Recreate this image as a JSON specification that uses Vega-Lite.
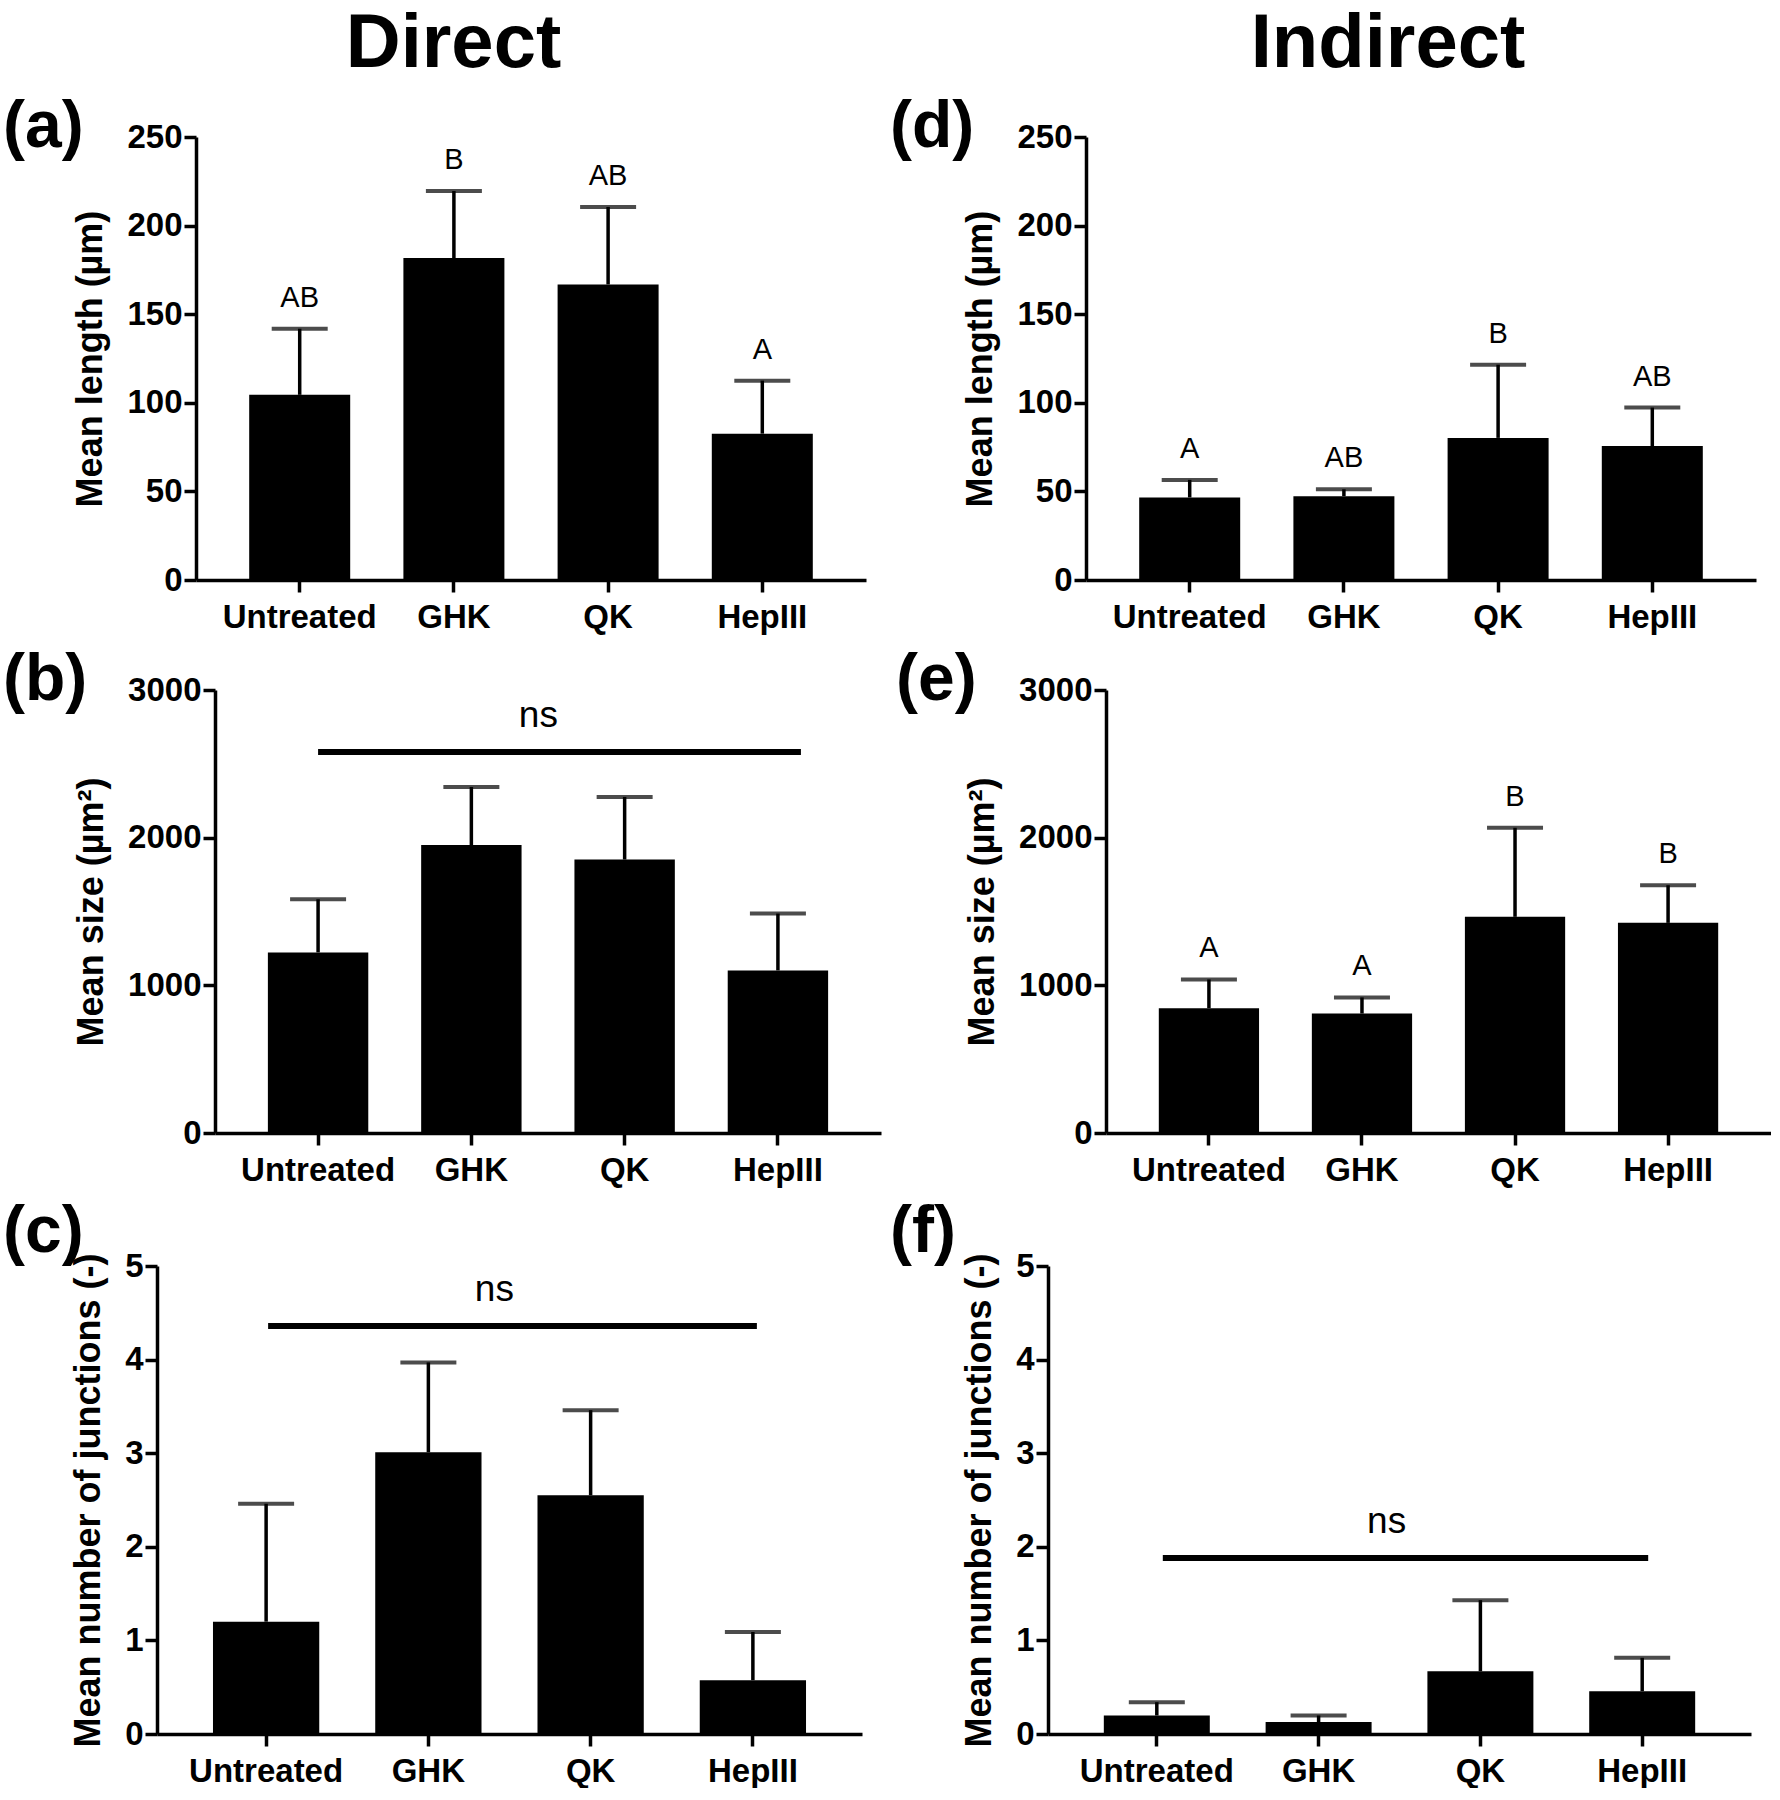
{
  "$schema": "https://vega.github.io/schema/vega-lite/v6.json",
  "background": "white",
  "padding": {"left": 0, "top": 6, "right": 0, "bottom": 0},
  "spacing": 12,
  "datasets": {
    "a": [
      {"group": "Untreated", "mean": 104.5, "err": 141.8, "letter": "AB"},
      {"group": "GHK", "mean": 181.7, "err": 219.5, "letter": "B"},
      {"group": "QK", "mean": 166.8, "err": 210.5, "letter": "AB"},
      {"group": "HepIII", "mean": 82.6, "err": 112.5, "letter": "A"}
    ],
    "b": [
      {"group": "Untreated", "mean": 1223, "err": 1583},
      {"group": "GHK", "mean": 1950, "err": 2343},
      {"group": "QK", "mean": 1852, "err": 2276},
      {"group": "HepIII", "mean": 1101, "err": 1486}
    ],
    "c": [
      {"group": "Untreated", "mean": 1.2, "err": 2.46},
      {"group": "GHK", "mean": 3.01, "err": 3.97},
      {"group": "QK", "mean": 2.55, "err": 3.46},
      {"group": "HepIII", "mean": 0.575, "err": 1.09}
    ],
    "d": [
      {"group": "Untreated", "mean": 46.6, "err": 56.5, "letter": "A"},
      {"group": "GHK", "mean": 47.3, "err": 51.2, "letter": "AB"},
      {"group": "QK", "mean": 80.2, "err": 121.5, "letter": "B"},
      {"group": "HepIII", "mean": 75.6, "err": 97.3, "letter": "AB"}
    ],
    "e": [
      {"group": "Untreated", "mean": 845, "err": 1040, "letter": "A"},
      {"group": "GHK", "mean": 809, "err": 918, "letter": "A"},
      {"group": "QK", "mean": 1464, "err": 2067, "letter": "B"},
      {"group": "HepIII", "mean": 1423, "err": 1678, "letter": "B"}
    ],
    "f": [
      {"group": "Untreated", "mean": 0.198, "err": 0.34},
      {"group": "GHK", "mean": 0.128, "err": 0.198},
      {"group": "QK", "mean": 0.67, "err": 1.43},
      {"group": "HepIII", "mean": 0.457, "err": 0.814}
    ],
    "ns": [{"label": "ns"}],
    "blank": [{}]
  },
  "vconcat": [
    {
      "spacing": 2,
      "hconcat": [
        {"width": 1, "height": 1, "view": {"stroke": null, "fill": "white"}, "data": {"name": "blank"}, "mark": {"type": "point", "opacity": 0, "size": 1}, "encoding": {}},
        {
          "spacing": 24,
          "hconcat": [
            {
              "title": {"text": "Direct", "fontSize": 76, "fontWeight": "bold", "anchor": "middle", "frame": "bounds", "offset": 11, "dx": 19},
              "vconcat": [
                {
                  "width": 670, "height": 443,
                  "title": {"text": "(a)", "anchor": "start", "frame": "group", "fontSize": 66, "fontWeight": "bold", "offset": 0, "dx": -193, "dy": 40},
                  "data": {"name": "a"},
                  "encoding": {"x": {"field": "group", "type": "nominal", "sort": ["Untreated", "GHK", "QK", "HepIII"], "scale": {"paddingInner": 0.345, "paddingOuter": 0.345}, "axis": {"title": null}}},
                  "layer": [
                    {"mark": {"type": "bar", "color": "black"}, "encoding": {"y": {"field": "mean", "type": "quantitative", "scale": {"domain": [0, 250], "nice": false}, "axis": {"title": "Mean length (µm)", "values": [0, 50, 100, 150, 200, 250]}}}},
                    {"mark": {"type": "rule", "color": "black", "strokeWidth": 3.5}, "encoding": {"y": {"field": "mean", "type": "quantitative"}, "y2": {"field": "err"}}},
                    {"mark": {"type": "tick", "color": "black", "size": 56, "thickness": 4}, "encoding": {"y": {"field": "err", "type": "quantitative"}}},
                    {"mark": {"type": "text", "fontSize": 29, "baseline": "alphabetic", "dy": -22, "color": "black"}, "encoding": {"y": {"field": "err", "type": "quantitative"}, "text": {"field": "letter"}}}
                  ]
                }
              ]
            },
            {
              "title": {"text": "Indirect", "fontSize": 76, "fontWeight": "bold", "anchor": "middle", "frame": "bounds", "offset": 11, "dx": 65},
              "vconcat": [
                {
                  "width": 670, "height": 443,
                  "title": {"text": "(d)", "anchor": "start", "frame": "group", "fontSize": 66, "fontWeight": "bold", "offset": 0, "dx": -196, "dy": 40},
                  "data": {"name": "d"},
                  "encoding": {"x": {"field": "group", "type": "nominal", "sort": ["Untreated", "GHK", "QK", "HepIII"], "scale": {"paddingInner": 0.345, "paddingOuter": 0.345}, "axis": {"title": null}}},
                  "layer": [
                    {"mark": {"type": "bar", "color": "black"}, "encoding": {"y": {"field": "mean", "type": "quantitative", "scale": {"domain": [0, 250], "nice": false}, "axis": {"title": "Mean length (µm)", "values": [0, 50, 100, 150, 200, 250]}}}},
                    {"mark": {"type": "rule", "color": "black", "strokeWidth": 3.5}, "encoding": {"y": {"field": "mean", "type": "quantitative"}, "y2": {"field": "err"}}},
                    {"mark": {"type": "tick", "color": "black", "size": 56, "thickness": 4}, "encoding": {"y": {"field": "err", "type": "quantitative"}}},
                    {"mark": {"type": "text", "fontSize": 29, "baseline": "alphabetic", "dy": -22, "color": "black"}, "encoding": {"y": {"field": "err", "type": "quantitative"}, "text": {"field": "letter"}}}
                  ]
                }
              ]
            }
          ]
        }
      ]
    },
    {
      "spacing": 2,
      "hconcat": [
        {"width": 1, "height": 1, "view": {"stroke": null, "fill": "white"}, "data": {"name": "blank"}, "mark": {"type": "point", "opacity": 0, "size": 1}, "encoding": {}},
        {
          "spacing": 15,
          "hconcat": [
            {
              "width": 666, "height": 443,
              "title": {"text": "(b)", "anchor": "start", "frame": "group", "fontSize": 66, "fontWeight": "bold", "offset": 0, "dx": -212, "dy": 39.5},
              "data": {"name": "b"},
              "encoding": {"x": {"field": "group", "type": "nominal", "sort": ["Untreated", "GHK", "QK", "HepIII"], "scale": {"paddingInner": 0.345, "paddingOuter": 0.345}, "axis": {"title": null}}},
              "layer": [
                {"mark": {"type": "bar", "color": "black"}, "encoding": {"y": {"field": "mean", "type": "quantitative", "scale": {"domain": [0, 3000], "nice": false}, "axis": {"title": "Mean size (µm²)", "values": [0, 1000, 2000, 3000], "format": "d"}}}},
                {"mark": {"type": "rule", "color": "black", "strokeWidth": 3.5}, "encoding": {"y": {"field": "mean", "type": "quantitative"}, "y2": {"field": "err"}}},
                {"mark": {"type": "tick", "color": "black", "size": 56, "thickness": 4}, "encoding": {"y": {"field": "err", "type": "quantitative"}}},
                {"data": {"name": "ns"}, "mark": {"type": "rule", "color": "black", "strokeWidth": 6, "x2Offset": 23}, "encoding": {"x": {"datum": "Untreated"}, "x2": {"datum": "HepIII"}, "y": {"datum": 2580}}},
                {"data": {"name": "ns"}, "mark": {"type": "text", "fontSize": 37, "baseline": "alphabetic", "dx": 67, "dy": -25, "color": "black"}, "encoding": {"x": {"datum": "GHK"}, "y": {"datum": 2580}, "text": {"field": "label"}}}
              ]
            },
            {
              "width": 665, "height": 443,
              "title": {"text": "(e)", "anchor": "start", "frame": "group", "fontSize": 66, "fontWeight": "bold", "offset": 0, "dx": -210, "dy": 39.5},
              "data": {"name": "e"},
              "encoding": {"x": {"field": "group", "type": "nominal", "sort": ["Untreated", "GHK", "QK", "HepIII"], "scale": {"paddingInner": 0.345, "paddingOuter": 0.345}, "axis": {"title": null}}},
              "layer": [
                {"mark": {"type": "bar", "color": "black"}, "encoding": {"y": {"field": "mean", "type": "quantitative", "scale": {"domain": [0, 3000], "nice": false}, "axis": {"title": "Mean size (µm²)", "values": [0, 1000, 2000, 3000], "format": "d"}}}},
                {"mark": {"type": "rule", "color": "black", "strokeWidth": 3.5}, "encoding": {"y": {"field": "mean", "type": "quantitative"}, "y2": {"field": "err"}}},
                {"mark": {"type": "tick", "color": "black", "size": 56, "thickness": 4}, "encoding": {"y": {"field": "err", "type": "quantitative"}}},
                {"mark": {"type": "text", "fontSize": 29, "baseline": "alphabetic", "dy": -22, "color": "black"}, "encoding": {"y": {"field": "err", "type": "quantitative"}, "text": {"field": "letter"}}}
              ]
            }
          ]
        }
      ]
    },
    {
      "spacing": 2,
      "hconcat": [
        {"width": 1, "height": 1, "view": {"stroke": null, "fill": "white"}, "data": {"name": "blank"}, "mark": {"type": "point", "opacity": 0, "size": 1}, "encoding": {}},
        {
          "spacing": 28,
          "hconcat": [
            {
              "width": 705, "height": 468,
              "title": {"text": "(c)", "anchor": "start", "frame": "group", "fontSize": 66, "fontWeight": "bold", "offset": 0, "dx": -154, "dy": 16},
              "data": {"name": "c"},
              "encoding": {"x": {"field": "group", "type": "nominal", "sort": ["Untreated", "GHK", "QK", "HepIII"], "scale": {"paddingInner": 0.345, "paddingOuter": 0.345}, "axis": {"title": null}}},
              "layer": [
                {"mark": {"type": "bar", "color": "black"}, "encoding": {"y": {"field": "mean", "type": "quantitative", "scale": {"domain": [0, 5], "nice": false}, "axis": {"title": "Mean number of junctions (-)", "values": [0, 1, 2, 3, 4, 5], "format": "d"}}}},
                {"mark": {"type": "rule", "color": "black", "strokeWidth": 3.5}, "encoding": {"y": {"field": "mean", "type": "quantitative"}, "y2": {"field": "err"}}},
                {"mark": {"type": "tick", "color": "black", "size": 56, "thickness": 4}, "encoding": {"y": {"field": "err", "type": "quantitative"}}},
                {"data": {"name": "ns"}, "mark": {"type": "rule", "color": "black", "strokeWidth": 6, "xOffset": 2, "x2Offset": 4}, "encoding": {"x": {"datum": "Untreated"}, "x2": {"datum": "HepIII"}, "y": {"datum": 4.36}}},
                {"data": {"name": "ns"}, "mark": {"type": "text", "fontSize": 37, "baseline": "alphabetic", "dx": 66, "dy": -25, "color": "black"}, "encoding": {"x": {"datum": "GHK"}, "y": {"datum": 4.36}, "text": {"field": "label"}}}
              ]
            },
            {
              "width": 703, "height": 468,
              "title": {"text": "(f)", "anchor": "start", "frame": "group", "fontSize": 66, "fontWeight": "bold", "offset": 0, "dx": -158, "dy": 16},
              "data": {"name": "f"},
              "encoding": {"x": {"field": "group", "type": "nominal", "sort": ["Untreated", "GHK", "QK", "HepIII"], "scale": {"paddingInner": 0.345, "paddingOuter": 0.345}, "axis": {"title": null}}},
              "layer": [
                {"mark": {"type": "bar", "color": "black"}, "encoding": {"y": {"field": "mean", "type": "quantitative", "scale": {"domain": [0, 5], "nice": false}, "axis": {"title": "Mean number of junctions (-)", "values": [0, 1, 2, 3, 4, 5], "format": "d"}}}},
                {"mark": {"type": "rule", "color": "black", "strokeWidth": 3.5}, "encoding": {"y": {"field": "mean", "type": "quantitative"}, "y2": {"field": "err"}}},
                {"mark": {"type": "tick", "color": "black", "size": 56, "thickness": 4}, "encoding": {"y": {"field": "err", "type": "quantitative"}}},
                {"data": {"name": "ns"}, "mark": {"type": "rule", "color": "black", "strokeWidth": 6, "xOffset": 6, "x2Offset": 6}, "encoding": {"x": {"datum": "Untreated"}, "x2": {"datum": "HepIII"}, "y": {"datum": 1.88}}},
                {"data": {"name": "ns"}, "mark": {"type": "text", "fontSize": 37, "baseline": "alphabetic", "dx": 68, "dy": -25, "color": "black"}, "encoding": {"x": {"datum": "GHK"}, "y": {"datum": 1.88}, "text": {"field": "label"}}}
              ]
            }
          ]
        }
      ]
    }
  ],
  "config": {
    "font": "Liberation Sans",
    "view": {"stroke": null},
    "title": {"color": "black", "font": "Liberation Sans", "fontWeight": "bold"},
    "text": {"font": "Liberation Sans"},
    "axis": {
      "grid": false,
      "domainColor": "black", "domainWidth": 3.5,
      "tickColor": "black", "tickWidth": 3.5, "tickSize": 12,
      "labelColor": "black", "labelFont": "Liberation Sans", "labelFontSize": 33, "labelFontWeight": "bold",
      "titleColor": "black", "titleFont": "Liberation Sans", "titleFontSize": 36, "titleFontWeight": "bold"
    },
    "axisX": {"labelAngle": 0, "labelPadding": 9, "labelFontSize": 33, "labelOverlap": false},
    "axisY": {"labelPadding": 2, "titlePadding": 17, "labelFlush": false, "labelOverlap": false}
  }
}
